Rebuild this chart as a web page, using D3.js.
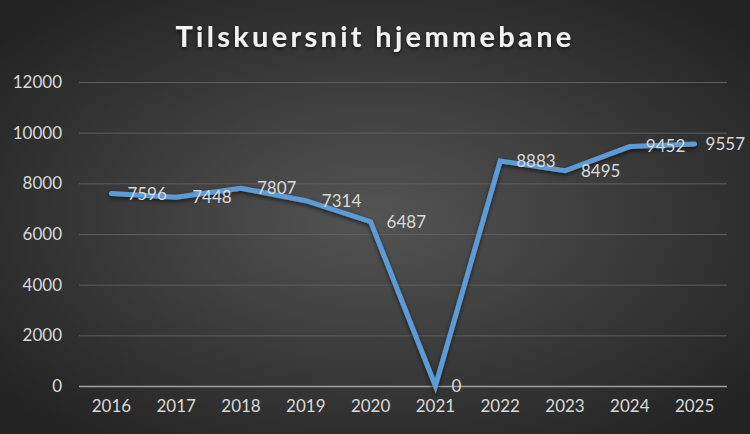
<!DOCTYPE html>
<html>
<head>
<meta charset="utf-8">
<script src="https://cdn.jsdelivr.net/npm/d3@7"></script>
<style>
  html, body { margin: 0; padding: 0; background: #333; }
  svg { display: block; font-family: Lato, "Open Sans", sans-serif; }
</style>
</head>
<body>
<div id="chart"></div>
<script>
// data
const years = ["2016", "2017", "2018", "2019", "2020", "2021", "2022", "2023", "2024", "2025"];
const tilskuere = [7596, 7448, 7807, 7314, 6487, 0, 8883, 8495, 9452, 9557];
const yTicks = [0, 2000, 4000, 6000, 8000, 10000, 12000];

const width = 750, height = 434;
const margin = { top: 82, right: 23, bottom: 48, left: 79 };

const svg = d3.select("#chart").append("svg")
    .attr("width", width)
    .attr("height", height);

const defs = svg.append("defs");

// background: dark radial gradient
const grad = defs.append("radialGradient")
    .attr("id", "bg")
    .attr("cx", "50%").attr("cy", "50%").attr("r", "65%");
grad.append("stop").attr("offset", "0%").attr("stop-color", "#545454");
grad.append("stop").attr("offset", "100%").attr("stop-color", "#232323");

// shadow for line and title
const shadow = defs.append("filter").attr("id", "shadow")
    .attr("x", "-10%").attr("y", "-10%").attr("width", "120%").attr("height", "130%");
shadow.append("feDropShadow")
    .attr("dx", 0).attr("dy", 2).attr("stdDeviation", 2)
    .attr("flood-color", "#000").attr("flood-opacity", 0.6);

svg.append("rect")
    .attr("width", width).attr("height", height)
    .attr("fill", "url(#bg)");

// title
svg.append("text")
    .attr("x", width / 2)
    .attr("y", 47)
    .attr("text-anchor", "middle")
    .attr("fill", "#f2f2f2")
    .attr("font-size", 29)
    .attr("font-weight", "bold")
    .attr("letter-spacing", 3.3)
    .attr("filter", "url(#shadow)")
    .text("Tilskuersnit hjemmebane");

const x = d3.scaleBand()
    .domain(years)
    .range([margin.left, width - margin.right]);

const y = d3.scaleLinear()
    .domain([0, 12000])
    .range([height - margin.bottom, margin.top]);

// gridlines
svg.append("g")
    .selectAll("line")
    .data(yTicks.filter(d => d > 0))
    .enter().append("line")
    .attr("x1", margin.left)
    .attr("x2", width - margin.right)
    .attr("y1", d => y(d) + 0.5)
    .attr("y2", d => y(d) + 0.5)
    .attr("stroke", "#5e5e5e")
    .attr("stroke-width", 1);

// base line
svg.append("line")
    .attr("x1", margin.left)
    .attr("x2", width - margin.right)
    .attr("y1", y(0) + 0.5)
    .attr("y2", y(0) + 0.5)
    .attr("stroke", "#a0a0a0")
    .attr("stroke-width", 1.5);

// y axis labels
const yAxis = svg.append("g")
    .attr("transform", "translate(" + (margin.left - 17) + ",0)")
    .call(d3.axisLeft(y).tickValues(yTicks).tickFormat(d3.format("d")).tickSize(0).tickPadding(0));
yAxis.select(".domain").remove();
yAxis.selectAll("text")
    .attr("fill", "#d9d9d9")
    .attr("font-size", 17)
    .attr("font-family", "Lato, sans-serif");

// x axis labels
const xAxis = svg.append("g")
    .attr("transform", "translate(0," + (y(0) + 14) + ")")
    .call(d3.axisBottom(x).tickSize(0).tickPadding(0));
xAxis.select(".domain").remove();
xAxis.selectAll("text")
    .attr("fill", "#d9d9d9")
    .attr("font-size", 17)
    .attr("font-family", "Lato, sans-serif");

// the line
const line = d3.line()
    .x((d, i) => x(years[i]) + x.bandwidth() / 2)
    .y(d => y(d));

svg.append("path")
    .datum(tilskuere)
    .attr("d", line)
    .attr("fill", "none")
    .attr("stroke", "#5b9bd5")
    .attr("stroke-width", 5)
    .attr("stroke-linecap", "round")
    .attr("stroke-linejoin", "miter")
    .attr("filter", "url(#shadow)");

// data labels to the right of each point, kept inside the chart
svg.append("g")
    .selectAll("text")
    .data(tilskuere)
    .enter().append("text")
    .attr("x", (d, i) => x(years[i]) + x.bandwidth() / 2 + 16)
    .attr("y", d => y(d))
    .attr("dy", "0.35em")
    .attr("fill", "#d9d9d9")
    .attr("font-size", 17)
    .text(d => d)
    .each(function() {
        const t = d3.select(this);
        const w = this.getComputedTextLength();
        const x0 = +t.attr("x");
        if (x0 + w > width - 5) t.attr("x", width - 5 - w);
    });
</script>
</body>
</html>
